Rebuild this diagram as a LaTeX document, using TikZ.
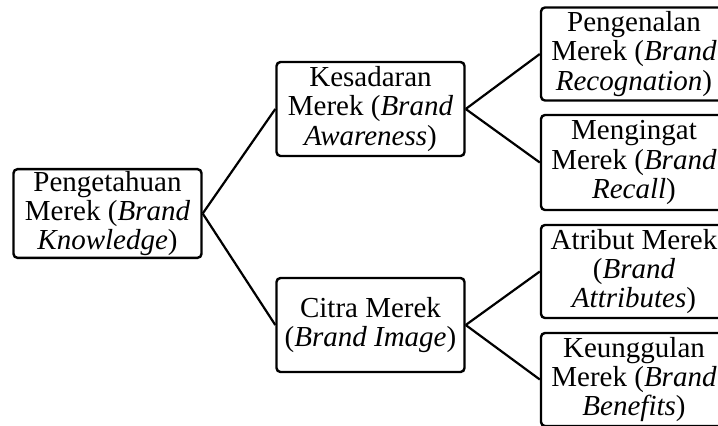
\documentclass[tikz,border=0pt]{standalone}
\usepackage{fontspec}
\setmainfont{Liberation Serif}
\usetikzlibrary{positioning}

\begin{document}
\begin{tikzpicture}[x=0.5pt, y=-0.5pt, box/.style={rectangle,draw,rounded corners=2pt,line width=1.2pt,minimum width=94pt,minimum height=46.5pt,inner sep=1pt,align=center,font=\fontsize{14.5}{14.6}\selectfont}, link/.style={-, black, line width=1.1pt} ]
\clip (0,0) rectangle (718,425);
\node (b1) [box, minimum height=43.5pt] at (107.5,213.5) {Pengetahuan\\Merek (\textit{Brand}\\\textit{Knowledge})};
\node (b2) [box, minimum height=47pt] at (370.5,109) {Kesadaran\\Merek (\textit{Brand}\\\textit{Awareness})};
\node (b3) [box, minimum height=47pt] at (370.5,325) {Citra Merek\\(\textit{Brand Image})};
\node (b4) [box, minimum width=93pt] at (634,54) {Pengenalan\\Merek (\textit{Brand}\\\textit{Recognation})};
\node (b5) [box, minimum width=93pt, minimum height=47.5pt] at (634,162.5) {Mengingat\\Merek (\textit{Brand}\\\textit{Recall})};
\node (b6) [box, minimum width=93pt] at (634,271.5) {Atribut Merek\\(\textit{Brand}\\\textit{Attributes})};
\node (b7) [box, minimum width=93pt] at (634,379.5) {Keunggulan\\Merek (\textit{Brand}\\\textit{Benefits})};
  \begin{scope}
    \draw [link] (b1.east) -- (b2.west);
    \draw [link] (b1.east) -- (b3.west);
    \draw [link] (b2.east) -- (b4.west);
    \draw [link] (b2.east) -- (b5.west);
    \draw [link] (b3.east) -- (b6.west);
    \draw [link] (b3.east) -- (b7.west);
  \end{scope}
\end{tikzpicture}
\end{document}
